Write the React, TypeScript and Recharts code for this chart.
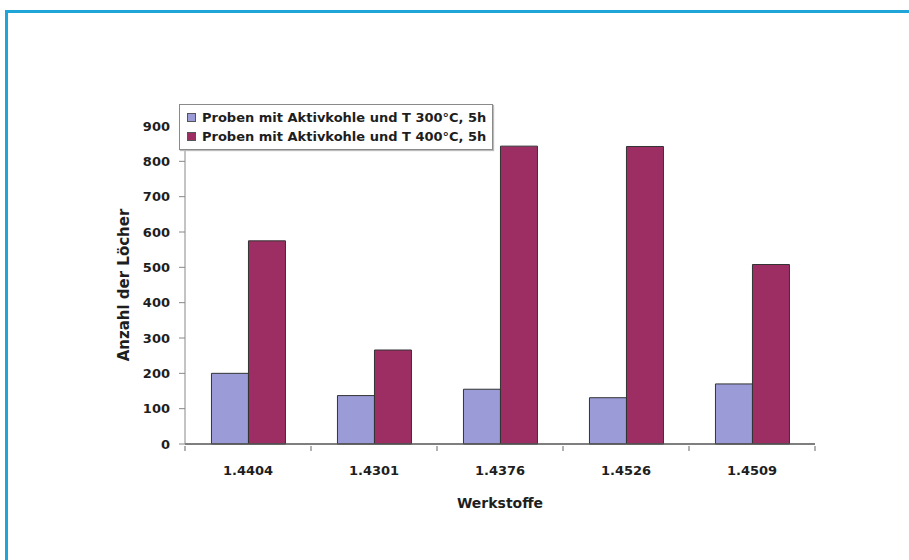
import { Bar, BarChart, Legend, XAxis, YAxis } from "recharts";

const werkstoffe = ["1.4404", "1.4301", "1.4376", "1.4526", "1.4509"];
const proben300 = [200, 137, 155, 131, 170];
const proben400 = [575, 266, 843, 842, 508];
const yTicks = [0, 100, 200, 300, 400, 500, 600, 700, 800, 900];

const name300 = "Proben mit Aktivkohle und T 300°C, 5h";
const name400 = "Proben mit Aktivkohle und T 400°C, 5h";

const FONT = '"DejaVu Sans", "Liberation Sans", Arial, sans-serif';
const TEXT = "#1e1e1e";
const BLUE = "#9b9bd8";
const RED = "#9d2e64";

const data = werkstoffe.map((w, i) => ({
  name: w,
  [name300]: proben300[i],
  [name400]: proben400[i],
}));

// ticks between the groups, like the Excel original
const CategoryTick = ({ x, y, payload, index, visibleTicksCount }: any) => {
  const half = payload.offset ?? 0;
  return (
    <g>
      <line x1={x - half} x2={x - half} y1={y - 6} y2={y - 1} stroke="#666" />
      {index === visibleTicksCount - 1 && (
        <line x1={x + half} x2={x + half} y1={y - 6} y2={y - 1} stroke="#666" />
      )}
      <text x={x} y={y + 23} textAnchor="middle" fontSize={13} fontWeight="bold" fill={TEXT} fontFamily={FONT}>
        {payload.value}
      </text>
    </g>
  );
};

const LegendBox = () => (
  <div
    style={{
      border: "1px solid #8a8a8a",
      boxShadow: "1px 1px 1px #bbb",
      background: "#fff",
      padding: "3px 6px 3px 7px",
      fontFamily: FONT,
      fontSize: 13,
      fontWeight: "bold",
      color: TEXT,
      lineHeight: "19px",
      whiteSpace: "nowrap",
    }}
  >
    {[
      { n: name300, c: BLUE },
      { n: name400, c: RED },
    ].map((it) => (
      <div key={it.n} style={{ display: "flex", alignItems: "center" }}>
        <span style={{ width: 7, height: 7, background: it.c, border: "1px solid #555", marginRight: 6 }} />
        {it.n}
      </div>
    ))}
  </div>
);

export default function App() {
  return (
    <div style={{ position: "fixed", left: 0, top: 0, width: 909, height: 560, background: "#fff" }}>
      <div
        style={{
          position: "absolute",
          left: 5,
          top: 10,
          right: 0,
          bottom: 0,
          borderTop: "3px solid #1fa5d8",
          borderLeft: "3px solid #1fa5d8",
        }}
      />
      <BarChart
        width={909}
        height={560}
        data={data}
        margin={{ top: 126, right: 94, bottom: 46, left: 115 }}
        barCategoryGap="21%"
        barGap={0}
        style={{ position: "absolute", left: 0, top: 0 }}
      >
        <XAxis
          dataKey="name"
          height={70}
          axisLine={{ stroke: "#555", strokeWidth: 1.5 }}
          tickLine={false}
          tick={<CategoryTick />}
          label={{
            value: "Werkstoffe",
            position: "insideBottom",
            offset: 6,
            fontSize: 14,
            fontWeight: "bold",
            fill: TEXT,
            fontFamily: FONT,
          }}
        />
        <YAxis
          width={70}
          domain={[0, 900]}
          ticks={yTicks}
          interval={0}
          axisLine={{ stroke: "#888" }}
          tickLine={{ stroke: "#888" }}
          tickSize={6}
          tickMargin={9}
          tick={{ fontSize: 13, fontWeight: "bold", fill: TEXT, fontFamily: FONT }}
          label={{
            value: "Anzahl der Löcher",
            angle: -90,
            position: "center",
            dx: -26,
            fontSize: 15,
            fontWeight: "bold",
            fill: TEXT,
            fontFamily: FONT,
          }}
        />
        <Legend
          layout="vertical"
          align="center"
          verticalAlign="middle"
          content={<LegendBox />}
          wrapperStyle={{ left: 179, top: 104, width: "auto" }}
        />
        <Bar dataKey={name300} fill={BLUE} stroke="#333" strokeWidth={1} isAnimationActive={false} />
        <Bar dataKey={name400} fill={RED} stroke="#333" strokeWidth={1} isAnimationActive={false} />
      </BarChart>
    </div>
  );
}
